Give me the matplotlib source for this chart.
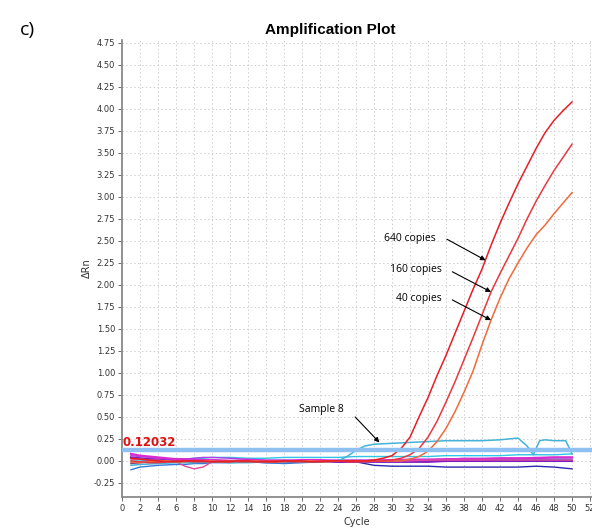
import matplotlib
matplotlib.use("Agg")
import matplotlib.pyplot as plt
import numpy as np

# ---------------- data ----------------
cycles = list(range(1, 51))

copies_640 = [0.03, 0.02, 0.01, 0.00, -0.01, -0.01, 0.00, 0.00, 0.00, -0.01,
              -0.01, -0.01, 0.00, 0.00, -0.01, -0.01, -0.01, 0.00, 0.00, 0.00,
              -0.01, -0.01, 0.00, 0.00, 0.00, 0.00, 0.00, 0.01, 0.03, 0.06,
              0.14, 0.27, 0.50, 0.72, 0.97, 1.20, 1.45, 1.70, 1.95, 2.18,
              2.45, 2.70, 2.93, 3.15, 3.35, 3.55, 3.73, 3.87, 3.98, 4.08]
copies_160 = [0.00, -0.01, -0.02, -0.02, -0.01, 0.00, 0.00, -0.01, -0.01, -0.01,
              0.00, 0.00, -0.01, -0.01, -0.01, 0.00, 0.00, 0.00, -0.01, -0.01,
              -0.01, 0.00, 0.00, 0.00, -0.01, -0.01, 0.00, 0.00, 0.00, 0.01,
              0.03, 0.07, 0.14, 0.27, 0.45, 0.67, 0.90, 1.15, 1.40, 1.66,
              1.92, 2.13, 2.33, 2.53, 2.75, 2.95, 3.13, 3.30, 3.45, 3.60]
copies_40 = [-0.02, -0.02, -0.01, 0.00, 0.00, -0.01, -0.01, 0.00, 0.00, 0.00,
             -0.01, -0.01, 0.00, 0.00, 0.00, -0.01, -0.01, -0.01, 0.00, 0.00,
             0.00, -0.01, -0.01, 0.00, 0.00, 0.00, -0.01, 0.00, 0.00, 0.00,
             0.00, 0.02, 0.05, 0.11, 0.22, 0.37, 0.56, 0.78, 1.02, 1.32,
             1.60, 1.85, 2.07, 2.25, 2.42, 2.57, 2.68, 2.81, 2.93, 3.05]

sample8_cycles = [1, 2, 4, 6, 8, 10, 12, 14, 16, 18, 20, 22, 24, 25, 26, 27, 28,
                  30, 32, 34, 36, 38, 40, 42, 44, 45, 45.7, 46.4, 47, 48, 49.3, 50]
sample8 = [-0.05, -0.04, -0.03, -0.02, -0.02, -0.01, -0.02, -0.02, -0.01, -0.01,
           -0.01, -0.01, 0.00, 0.05, 0.12, 0.17, 0.19, 0.20, 0.21, 0.22, 0.23,
           0.23, 0.23, 0.24, 0.26, 0.17, 0.07, 0.23, 0.24, 0.23, 0.23, 0.08]

base_cycles = [1, 2, 3, 4, 6, 7, 8, 9, 10, 12, 14, 16, 18, 20, 22, 24, 26, 28,
               30, 32, 34, 36, 38, 40, 42, 44, 46, 48, 50]
dark_blue = [-0.03, -0.02, -0.01, -0.01, 0.00, 0.00, 0.00, 0.00, 0.00, -0.01,
             -0.01, -0.02, -0.02, -0.01, -0.01, -0.01, -0.01, -0.05, -0.06, -0.06,
             -0.06, -0.07, -0.07, -0.07, -0.07, -0.07, -0.06, -0.07, -0.09]
blue = [-0.10, -0.07, -0.06, -0.05, -0.04, -0.04, -0.03, -0.03, -0.02, -0.02,
        -0.01, -0.02, -0.03, -0.02, -0.01, 0.00, -0.01, 0.00, -0.01, 0.00,
        0.00, 0.01, 0.01, 0.01, 0.02, 0.02, 0.02, 0.02, 0.02]
cyan = [0.00, 0.00, 0.01, 0.01, 0.02, 0.02, 0.03, 0.03, 0.04, 0.04,
        0.03, 0.03, 0.04, 0.04, 0.04, 0.04, 0.05, 0.05, 0.05, 0.05,
        0.05, 0.06, 0.06, 0.06, 0.06, 0.07, 0.07, 0.07, 0.08]
magenta = [0.08, 0.06, 0.05, 0.04, 0.02, 0.02, 0.01, 0.01, 0.01, 0.00,
           0.01, 0.00, 0.00, 0.01, 0.01, 0.00, 0.00, 0.00, 0.01, 0.01,
           0.01, 0.02, 0.02, 0.02, 0.03, 0.03, 0.03, 0.04, 0.04]
purple = [0.04, 0.03, 0.02, 0.02, 0.01, 0.00, 0.00, 0.00, 0.00, 0.00,
          -0.01, -0.01, 0.00, 0.00, 0.00, -0.01, -0.01, -0.01, -0.01, -0.01,
          -0.01, 0.00, 0.00, 0.00, 0.00, 0.00, 0.00, 0.00, 0.00]
pink = [0.02, 0.02, 0.01, 0.01, -0.01, -0.06, -0.09, -0.07, -0.01, 0.00,
        0.00, -0.01, -0.01, 0.00, 0.00, 0.00, -0.01, 0.00, 0.00, 0.00,
        0.01, 0.01, 0.01, 0.01, 0.01, 0.01, 0.01, 0.01, 0.01]
violet = [0.06, 0.05, 0.04, 0.03, 0.02, 0.02, 0.03, 0.04, 0.04, 0.03,
          0.02, 0.01, 0.01, 0.00, 0.00, 0.01, 0.01, 0.01, 0.01, 0.02,
          0.02, 0.02, 0.03, 0.03, 0.03, 0.03, 0.04, 0.04, 0.04]

threshold = 0.12032

x_ticks = list(range(0, 54, 2))
y_ticks = [-0.25, 0.00, 0.25, 0.50, 0.75, 1.00, 1.25, 1.50, 1.75, 2.00, 2.25,
           2.50, 2.75, 3.00, 3.25, 3.50, 3.75, 4.00, 4.25, 4.50, 4.75]

# ---------------- figure ----------------
fig = plt.figure(figsize=(5.92, 5.29), dpi=100)
ax = fig.add_axes([122 / 592, 1 - 497 / 529, 470 / 592, 457 / 529])

ax.set_xlim(0, 52.22)
ax.set_ylim(-0.41, 4.784)

ax.set_xticks(x_ticks)
ax.set_yticks(y_ticks)
ax.set_xticklabels([str(t) for t in x_ticks])
ax.set_yticklabels([f"{t:.2f}" for t in y_ticks])
ax.tick_params(axis="both", labelsize=6, colors="#555555", length=3, width=0.6,
               labelcolor="#333333", pad=2)
ax.grid(True, linestyle=(0, (1.5, 2.5)), color="#cfcfcf", linewidth=0.7)
ax.set_axisbelow(True)
for s in ["top", "right"]:
    ax.spines[s].set_visible(False)
for s in ["left", "bottom"]:
    ax.spines[s].set_color("#8a8a8a")
    ax.spines[s].set_linewidth(1.3)

lw = 1.0
ax.plot(base_cycles, dark_blue, color="#2a2ab0", lw=lw)
ax.plot(base_cycles, blue, color="#3478d8", lw=lw)
ax.plot(base_cycles, cyan, color="#30c4e6", lw=lw)
ax.plot(base_cycles, purple, color="#7a1ec0", lw=1.6)
ax.plot(base_cycles, violet, color="#b040e0", lw=lw)
ax.plot(base_cycles, magenta, color="#d82cd0", lw=1.6)
ax.plot(base_cycles, pink, color="#e04a9a", lw=lw)
ax.plot(sample8_cycles, sample8, color="#45b2d8", lw=1.1)
ax.plot(cycles, copies_40, color="#f06a3a", lw=1.1)
ax.plot(cycles, copies_160, color="#e83840", lw=1.1)
ax.plot(cycles, copies_640, color="#e61e28", lw=1.1)

ax.axhline(threshold, color="#8ec0f2", lw=3.2, zorder=5)
ax.text(0.1, threshold + 0.02, f"{threshold:.5f}", color="#e01010",
        fontsize=8.5, fontweight="bold", family="DejaVu Sans", ha="left", va="bottom",
        zorder=6)

arrow = dict(arrowstyle="-|>", color="black", lw=0.8, mutation_scale=7,
             shrinkA=0, shrinkB=0)
txt = dict(fontsize=7.5, family="Open Sans", ha="center", va="center")

ax.text(32.0, 2.53, "640 copies", **txt)
ax.annotate("", xy=(40.4, 2.28), xytext=(36.1, 2.52), arrowprops=arrow)
ax.text(32.7, 2.17, "160 copies", **txt)
ax.annotate("", xy=(41.0, 1.92), xytext=(36.7, 2.15), arrowprops=arrow)
ax.text(33.0, 1.85, "40 copies", **txt)
ax.annotate("", xy=(41.0, 1.60), xytext=(36.7, 1.83), arrowprops=arrow)
ax.text(22.2, 0.59, "Sample 8", **txt)
ax.annotate("", xy=(28.6, 0.21), xytext=(25.9, 0.50), arrowprops=arrow)

ax.set_xlabel("Cycle", fontsize=7, color="#333333", labelpad=3)
ax.set_ylabel("ΔRn", fontsize=7, color="#333333", labelpad=1)

fig.text(330 / 592, 1 - 30 / 529, "Amplification Plot", fontsize=11,
         fontweight="bold", family="Liberation Sans", ha="center", va="center")
fig.text(20 / 592, 1 - 30 / 529, "c)", fontsize=14, family="Open Sans",
         ha="left", va="center")

fig.savefig("out.png", dpi=100)
